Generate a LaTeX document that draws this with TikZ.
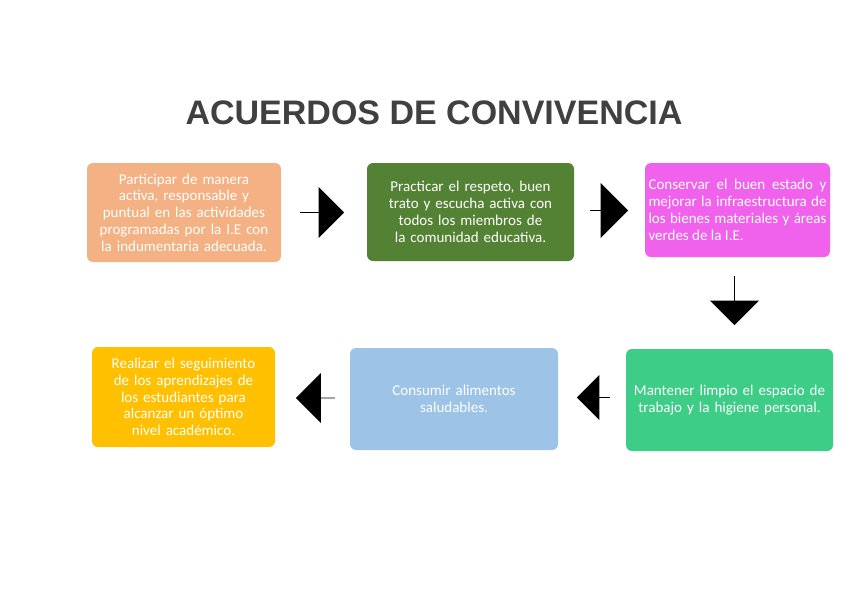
\documentclass[tikz,border=0pt]{standalone}
\usepackage{fontspec}
\setmainfont{Carlito}
\setsansfont{Liberation Sans}
\usetikzlibrary{shapes.arrows}
\definecolor{salmon}{HTML}{F4B183}
\definecolor{darkgreen}{HTML}{548235}
\definecolor{pinkmag}{HTML}{F162EC}
\definecolor{mintgreen}{HTML}{3DCD86}
\definecolor{paleblue}{HTML}{9DC3E6}
\definecolor{amber}{HTML}{FFC000}
\tikzset{x=1pt,y=-1pt}
\tikzset{acuerdo/.style={rounded corners=6pt, text=white, align=center,
  font=\fontsize{15}{16.8}\selectfont, inner sep=3pt},
  flecha/.style={single arrow, fill=black, draw=none, inner sep=0pt,
  single arrow head extend=12pt}}

\begin{document}
\hyphenpenalty=10000 \exhyphenpenalty=10000
\begin{tikzpicture}
\useasboundingbox (0,0) rectangle (868,614);

\node[font=\sffamily\bfseries\fontsize{34}{36}\selectfont, text=black!75] (titulo) at (434,113) {ACUERDOS DE CONVIVENCIA};

\node[acuerdo, fill=salmon, minimum width=194, minimum height=99, text width=184] (A1) at (184,212.5)
  {Participar de manera activa, responsable y puntual en las actividades programadas por la I.E con la indumentaria adecuada.};
\node[acuerdo, fill=darkgreen, minimum width=207, minimum height=98, text width=182] (A2) at (470.5,212)
  {Practicar el respeto, buen trato y escucha activa con todos los miembros de la comunidad educativa.};
\node[acuerdo, fill=pinkmag, minimum width=185, minimum height=94, text width=178, align=justify] (A3) at (737.5,210)
  {Conservar el buen estado y mejorar la infraestructura de los bienes materiales y áreas verdes de la I.E.};
\node[acuerdo, fill=mintgreen, minimum width=207, minimum height=102, text width=198] (A4) at (729.5,400)
  {Mantener limpio el espacio de trabajo y la higiene personal.};
\node[acuerdo, fill=paleblue, minimum width=208, minimum height=102, text width=150] (A5) at (454,399)
  {Consumir alimentos saludables.};
\node[acuerdo, fill=amber, minimum width=183, minimum height=100, text width=165] (A6) at (183.5,397)
  {Realizar el seguimiento de los aprendizajes de los estudiantes para alcanzar un óptimo nivel académico.};

% flechas entre acuerdos
\node[flecha, minimum height=44, minimum width=51] (F1) at (322,212.5) {};
\node[flecha, minimum height=38, minimum width=55] (F2) at (609,210.5) {};
\node[flecha, minimum height=49, minimum width=49, shape border rotate=270] (F3) at (734.5,300.5) {};
\node[flecha, minimum height=33, minimum width=45, shape border rotate=180] (F4) at (593.5,397.5) {};
\node[flecha, minimum height=39, minimum width=50, shape border rotate=180] (F5) at (315.5,398) {};

\end{tikzpicture}
\end{document}
